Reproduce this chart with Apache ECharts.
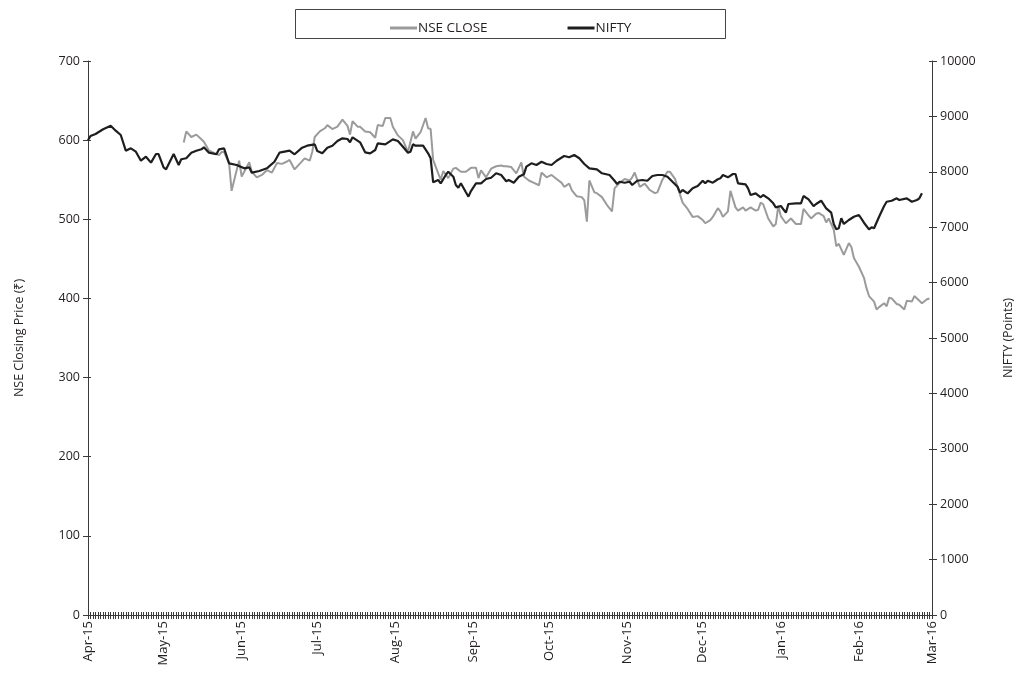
<!DOCTYPE html>
<html><head><meta charset="utf-8">
<script src="https://cdn.jsdelivr.net/npm/echarts@6/dist/echarts.min.js"></script>
<style>html,body{margin:0;padding:0;background:#fff}#c{width:1017px;height:673px}</style>
</head><body><div id="c"></div>
<script>
// Calendar-day category axis: 2015-04-01 .. 2016-03-01
const axisStart = [2015, 3, 1];
const axisEnd = [2016, 2, 1];
const monthNames = ['Jan','Feb','Mar','Apr','May','Jun','Jul','Aug','Sep','Oct','Nov','Dec'];

// day offsets from 2015-04-01 and read values
const nseDays = [38,39,41,43,45,46,48,50,52,53,54,56,57,59,60,61,64,65,67,69,71,73,75,77,79,80,82,84,86,88,89,90,92,94,95,97,99,101,103,104,105,107,108,110,112,114,115,117,118,120,121,123,125,127,129,130,132,134,135,136,137,139,140,141,143,145,146,148,150,152,154,155,156,158,160,162,164,165,166,168,170,172,173,175,177,179,180,182,184,186,188,189,191,192,194,196,197,198,199,201,202,204,206,208,209,211,213,215,216,217,219,221,223,225,226,228,230,231,233,234,236,238,240,242,244,245,247,248,250,251,252,254,255,257,258,260,261,263,265,266,267,268,270,272,273,274,275,277,279,281,283,284,286,287,289,290,292,293,294,296,297,298,299,300,302,303,304,306,308,309,310,312,313,314,316,317,318,319,321,322,324,325,327,328,330,331,333,334];
const nseValues = [597,611,604,607,601,598,587,584,581,585,585,571,536,562,574,554,572,560,553,556,562,559,571,570,573,575,563,570,577,574,585,604,611,615,619,614,617,626,618,607,624,617,617,611,610,603,619,618,628,628,617,606,600,585,611,602,610,628,615,614,575,558,550,561,552,564,565,560,560,565,565,552,562,553,564,567,568,567,567,566,558,572,554,549,546,543,559,553,556,551,546,541,545,537,529,528,524,497,549,534,533,528,518,510,539,546,551,549,553,559,541,545,537,533,534,550,560,560,551,541,521,513,503,504,499,495,499,503,514,510,503,510,536,515,511,515,511,515,511,512,521,519,501,491,494,517,504,495,501,494,494,513,505,501,507,508,504,496,501,487,466,469,462,455,470,465,451,440,426,413,403,396,386,389,394,390,401,400,393,392,386,397,396,403,397,394,399,400];

const niftyDays = [0,1,3,6,9,11,13,15,17,19,21,23,25,27,28,30,31,34,36,37,39,41,43,45,46,48,51,52,54,56,59,62,64,65,68,71,74,76,78,80,82,85,87,90,91,93,95,97,99,101,103,104,105,108,110,112,114,115,118,121,123,125,127,128,129,130,133,135,136,137,139,140,142,143,145,146,147,148,150,151,152,154,156,158,160,162,164,166,167,169,171,173,174,176,178,180,182,184,186,189,191,193,195,197,199,202,204,207,209,210,211,213,215,216,218,220,222,224,226,228,230,232,234,235,236,238,240,242,244,245,246,248,250,251,252,254,256,257,258,261,262,263,265,267,268,270,272,273,275,277,278,281,283,284,286,288,289,291,293,295,296,297,298,299,300,302,304,306,308,310,311,312,314,316,317,319,321,322,325,327,329,330,331];
const niftyValues = [8570,8646,8682,8767,8832,8742,8664,8381,8424,8363,8200,8273,8165,8321,8321,8081,8045,8321,8123,8226,8244,8345,8381,8406,8442,8345,8316,8406,8424,8153,8123,8063,8081,7984,8014,8063,8182,8345,8363,8381,8316,8435,8471,8496,8375,8333,8435,8471,8556,8604,8592,8532,8622,8532,8352,8333,8393,8514,8496,8586,8556,8453,8345,8363,8496,8471,8471,8333,8244,7810,7852,7792,7942,8002,7912,7762,7713,7792,7630,7551,7653,7792,7792,7870,7893,7973,7942,7830,7852,7803,7912,7955,8092,8153,8123,8182,8141,8123,8200,8285,8262,8303,8244,8141,8063,8045,7973,7942,7839,7780,7821,7803,7821,7762,7839,7852,7839,7924,7942,7942,7912,7821,7731,7623,7671,7611,7702,7743,7839,7792,7839,7803,7865,7882,7942,7900,7960,7960,7792,7774,7702,7581,7611,7540,7581,7521,7431,7359,7382,7262,7419,7431,7431,7563,7503,7382,7419,7478,7341,7262,7058,6962,6980,7161,7058,7130,7189,7220,7081,6962,6998,6980,7189,7382,7460,7478,7521,7491,7521,7460,7491,7521,7611];

const leftAxis = {min: 0, max: 700, interval: 100, name: 'NSE Closing Price (₹)'};
const rightAxis = {min: 0, max: 10000, interval: 1000, name: 'NIFTY (Points)'};
const seriesNames = ['NSE CLOSE', 'NIFTY'];

const cats = [];
{
  let t = Date.UTC(axisStart[0], axisStart[1], axisStart[2]);
  const e = Date.UTC(axisEnd[0], axisEnd[1], axisEnd[2]);
  while (t <= e) { cats.push(new Date(t).toISOString().slice(0, 10)); t += 86400000; }
}
function fill(days, vals) {
  const arr = cats.map(() => null);
  days.forEach((k, i) => { arr[k] = vals[i]; });
  return arr;
}
const FONT = 'Open Sans';
const TXT = '#231f20';
const AX = '#3a3a3a';
// extra tick-only axes so ticks cross the axis line like the original
function innerTickY(src, pos) {
  return {type: 'value', min: src.min, max: src.max, interval: src.interval, position: pos,
    axisLine: {show: false}, axisTick: {show: true, inside: true, length: 3, lineStyle: {color: AX}},
    axisLabel: {show: false}, splitLine: {show: false}};
}
const chart = echarts.init(document.getElementById('c'));
chart.setOption({
  animation: false,
  backgroundColor: '#fff',
  textStyle: {fontFamily: FONT, color: TXT},
  graphic: [{type: 'rect', shape: {x: 295.5, y: 9.5, width: 430, height: 29}, style: {fill: 'none', stroke: '#444', lineWidth: 1}}],
  legend: {
    left: 385, top: 16, itemWidth: 27, itemHeight: 3, itemGap: 80, icon: 'rect',
    textStyle: {fontFamily: FONT, fontSize: 13.5, color: TXT, padding: [0,0,0,-4]},
    data: seriesNames
  },
  grid: {left: 88, right: 85, top: 61, bottom: 58, containLabel: false, outerBoundsMode: 'none'},
  xAxis: [{
    type: 'category', data: cats, boundaryGap: false,
    axisLine: {lineStyle: {color: AX, width: 1}},
    axisTick: {interval: 0, length: 4, lineStyle: {color: AX}},
    axisLabel: {
      interval: (i, v) => v.slice(8) === '01',
      rotate: 90, margin: 6, fontSize: 13, color: TXT, fontFamily: FONT,
      formatter: v => monthNames[+v.slice(5, 7) - 1] + '-' + v.slice(2, 4)
    },
    splitLine: {show: false}
  }, {
    type: 'category', data: cats, boundaryGap: false, position: 'bottom', offset: 0,
    axisLine: {show: false},
    axisTick: {interval: 0, inside: true, length: 3, lineStyle: {color: AX}},
    axisLabel: {show: false}, splitLine: {show: false}
  }],
  yAxis: [
    {type: 'value', min: leftAxis.min, max: leftAxis.max, interval: leftAxis.interval, position: 'left',
     name: leftAxis.name, nameLocation: 'middle', nameGap: 62, nameRotate: 90,
     nameTextStyle: {fontSize: 12.5, color: TXT, fontFamily: FONT},
     axisLine: {show: true, lineStyle: {color: AX}},
     axisTick: {show: true, length: 5, lineStyle: {color: AX}},
     axisLabel: {fontSize: 12.5, color: TXT, margin: 8, fontFamily: FONT},
     splitLine: {show: false}},
    {type: 'value', min: rightAxis.min, max: rightAxis.max, interval: rightAxis.interval, position: 'right',
     name: rightAxis.name, nameLocation: 'middle', nameGap: 70, nameRotate: 90,
     nameTextStyle: {fontSize: 12.5, color: TXT, fontFamily: FONT},
     axisLine: {show: true, lineStyle: {color: AX}},
     axisTick: {show: true, length: 5, lineStyle: {color: AX}},
     axisLabel: {fontSize: 12.5, color: TXT, margin: 8, fontFamily: FONT, formatter: v => String(v)},
     splitLine: {show: false}},
    innerTickY(leftAxis, 'left'),
    innerTickY(rightAxis, 'right')
  ],
  series: [
    {name: seriesNames[0], type: 'line', yAxisIndex: 0, data: fill(nseDays, nseValues),
     connectNulls: true, showSymbol: false, symbol: 'none',
     itemStyle: {color: '#9b9b9b'}, lineStyle: {color: '#9b9b9b', width: 2}},
    {name: seriesNames[1], type: 'line', yAxisIndex: 1, data: fill(niftyDays, niftyValues),
     connectNulls: true, showSymbol: false, symbol: 'none',
     itemStyle: {color: '#1e1e1e'}, lineStyle: {color: '#1e1e1e', width: 2.2}}
  ]
});
</script></body></html>
